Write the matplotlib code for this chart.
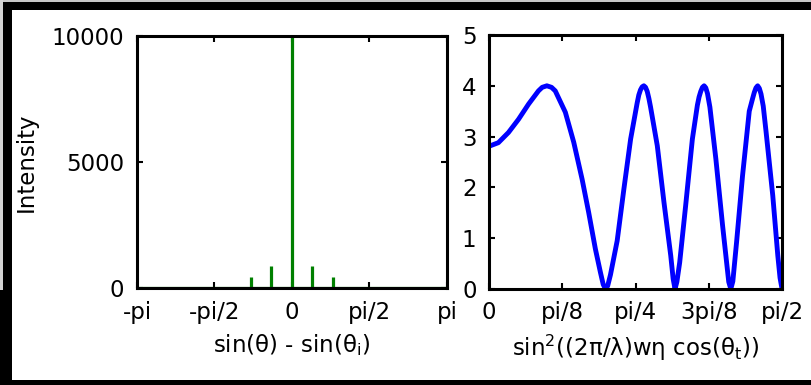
import numpy as np
import matplotlib.pyplot as plt
from matplotlib.patches import Rectangle

# left panel: diffraction peaks (position in rad, intensity)
peak_pos = [-1.56, -1.25, -0.84, -0.415, 0.0, 0.415, 0.84, 1.25, 1.56]
peak_height = [35, 55, 440, 880, 10000, 880, 440, 55, 35]

# right panel: curve
curve_x = [0.000, 0.050, 0.104, 0.158, 0.212, 0.265, 0.285, 0.310, 0.335,
           0.355, 0.409, 0.454, 0.499, 0.534, 0.570, 0.597, 0.612, 0.624,
           0.636, 0.651, 0.687, 0.723, 0.759, 0.794, 0.803, 0.812, 0.821,
           0.830, 0.839, 0.848, 0.857, 0.866, 0.902, 0.938, 0.974, 0.987,
           0.997, 1.007, 1.022, 1.054, 1.090, 1.117, 1.126, 1.135, 1.144,
           1.153, 1.162, 1.171, 1.184, 1.216, 1.252, 1.285, 1.296, 1.307,
           1.327, 1.359, 1.395, 1.413, 1.422, 1.431, 1.440, 1.449, 1.458,
           1.470, 1.485, 1.521, 1.548, 1.560, 1.5708]
curve_y = [2.81, 2.88, 3.08, 3.34, 3.64, 3.90, 3.97, 4.00, 3.97,
           3.90, 3.48, 2.89, 2.16, 1.51, 0.79, 0.33, 0.09, 0.00,
           0.06, 0.28, 0.95, 1.97, 2.95, 3.66, 3.82, 3.92, 3.98,
           4.00, 3.97, 3.89, 3.75, 3.58, 2.82, 1.70, 0.66, 0.20,
           0.00, 0.14, 0.52, 1.64, 2.95, 3.62, 3.78, 3.89, 3.97,
           4.00, 3.96, 3.85, 3.58, 2.56, 1.25, 0.14, 0.00, 0.15,
           0.92, 2.23, 3.50, 3.75, 3.87, 3.96, 4.00, 3.95, 3.84,
           3.60, 3.10, 1.84, 0.66, 0.22, 0.00]

left_ticks = [-np.pi, -np.pi / 2, 0, np.pi / 2, np.pi]
left_ticklabels = ['-pi', '-pi/2', '0', 'pi/2', 'pi']
right_ticks = [0, np.pi / 8, np.pi / 4, 3 * np.pi / 8, np.pi / 2]
right_ticklabels = ['0', 'pi/8', 'pi/4', '3pi/8', 'pi/2']

plt.rcParams['font.family'] = ['DejaVu Sans']
plt.rcParams['mathtext.fontset'] = 'dejavusans'
fs = 16.5

fig = plt.figure(figsize=(8.11, 3.85), dpi=100, facecolor='white')

# screenshot frame
W, H = 811.0, 385.0
def frame(x0, y0, x1, y1, c):
    fig.patches.append(Rectangle((x0 / W, 1 - y1 / H), (x1 - x0) / W, (y1 - y0) / H,
                                 transform=fig.transFigure, color=c, lw=0, zorder=0))
frame(0, 0, 811, 2, '#c8c8c8')
frame(0, 2, 811, 10, 'black')
frame(0, 0, 3, 290, '#d4d4d4')
frame(3, 2, 12, 385, 'black')
frame(0, 290, 12, 385, 'black')
frame(0, 380, 811, 385, 'black')

def style(ax):
    for s in ax.spines.values():
        s.set_linewidth(2.2)
    ax.tick_params(direction='in', length=4, width=1.5, top=True, right=True,
                   labelsize=fs, pad=9)

ax1 = fig.add_axes([0.1689, 0.2519, 0.3822, 0.6545])
ax1.hlines(0, -np.pi, np.pi, color='#008000', lw=1.6)
ax1.vlines(peak_pos, 0, peak_height, color='#008000', lw=2.3)
ax1.set_xlim(-np.pi, np.pi)
ax1.set_ylim(0, 10000)
ax1.set_xticks(left_ticks)
ax1.set_xticklabels(left_ticklabels)
ax1.set_yticks([0, 5000, 10000])
ax1.set_xlabel('sin(θ) - sin(θ$_{\\rm i}$)', fontsize=fs, labelpad=6)
ax1.set_ylabel('Intensity', fontsize=fs, labelpad=10)
style(ax1)

ax2 = fig.add_axes([0.6030, 0.2494, 0.3613, 0.6597])
ax2.plot(curve_x, curve_y, color='#0000ff', lw=3.5, solid_joinstyle='round')
ax2.set_xlim(0, np.pi / 2)
ax2.set_ylim(0, 5)
ax2.set_xticks(right_ticks)
ax2.set_xticklabels(right_ticklabels)
ax2.set_yticks(range(6))
ax2.set_xlabel('sin$^2$((2π/λ)wη cos(θ$_{\\rm t}$))', fontsize=fs, labelpad=6)
style(ax2)

fig.savefig('out.png', dpi=100, facecolor='white')
